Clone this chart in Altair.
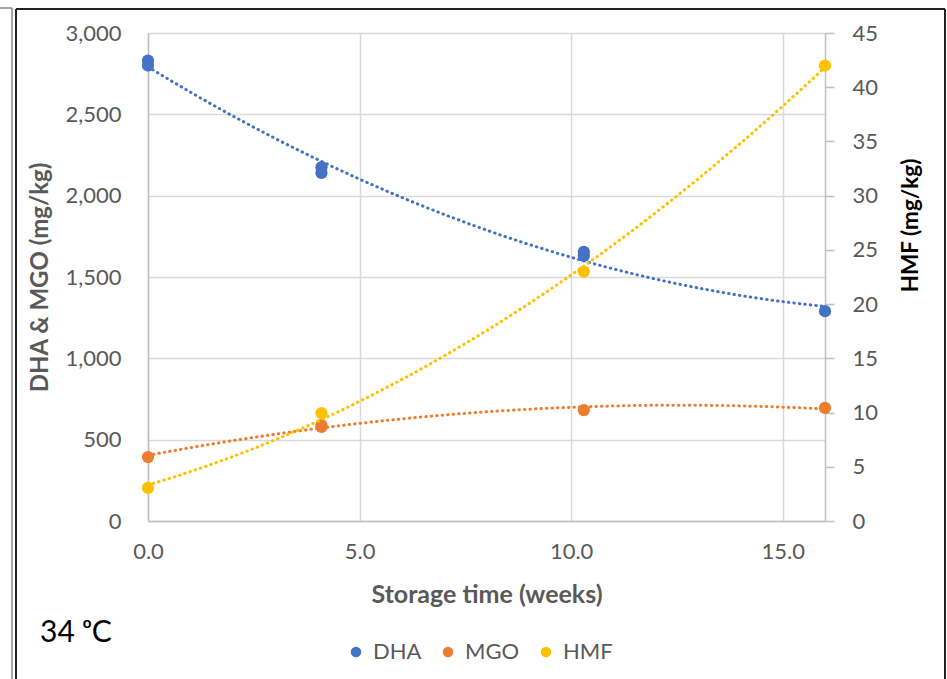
import altair as alt
import pandas as pd

# ---- data ----
series_names = ["DHA", "MGO", "HMF"]
series_colors = ["#4472C4", "#ED7D31", "#FFC000"]

dha_weeks = [0, 0, 4.1, 4.1, 10.3, 10.3, 16]
dha_vals = [2830, 2800, 2175, 2140, 1655, 1630, 1290]

mgo_weeks = [0, 4.1, 4.1, 10.3, 16]
mgo_vals = [393, 578, 590, 682, 695]

hmf_weeks = [0, 4.1, 10.3, 16]
hmf_vals = [3.05, 9.95, 23.0, 42.0]

x_ticks = [0, 5, 10, 15]
left_ticks = [0, 500, 1000, 1500, 2000, 2500, 3000]
right_ticks = [0, 5, 10, 15, 20, 25, 30, 35, 40, 45]

left_df = pd.DataFrame({
    "week": dha_weeks + mgo_weeks,
    "value": dha_vals + mgo_vals,
    "series": ["DHA"] * len(dha_weeks) + ["MGO"] * len(mgo_weeks),
})
right_df = pd.DataFrame({
    "week": hmf_weeks,
    "value": hmf_vals,
    "series": ["HMF"] * len(hmf_weeks),
})

FONT = "Lato"
GRAY = "#595959"
W, H = 677, 488

legend = alt.Legend(title=None, orient="none", direction="horizontal",
                    legendX=197, legendY=608, symbolType="circle",
                    symbolSize=110, symbolStrokeWidth=0, symbolOpacity=1,
                    labelFontSize=22, labelColor=GRAY, labelFont=FONT,
                    columnPadding=15, labelOffset=6)
color = alt.Color("series:N",
                  scale=alt.Scale(domain=series_names, range=series_colors),
                  legend=legend)

xenc = alt.X("week:Q", scale=alt.Scale(domain=[0, 16], nice=False),
             axis=alt.Axis(values=x_ticks, format=".1f", title="Storage time (weeks)",
                           labelFontSize=22, labelColor=GRAY, labelFont=FONT,
                           labelPadding=20, labelFlush=False, ticks=False,
                           domainColor="#BFBFBF", domainWidth=1.5,
                           gridColor="#D9D9D9", gridWidth=1.5,
                           titleFontSize=25, titleFont=FONT, titleColor=GRAY,
                           titleFontWeight="bold", titlePadding=20))

left_axis = alt.Axis(values=left_ticks, format=",.0f", title="DHA & MGO (mg/kg)",
                     labelFontSize=22, labelColor=GRAY, labelFont=FONT, labelPadding=27,
                     ticks=False, domainColor="#BFBFBF", domainWidth=1.5,
                     gridColor="#D9D9D9", gridWidth=1.5,
                     titleFontSize=24, titleFont=FONT, titleColor=GRAY,
                     titleFontWeight="bold", titlePadding=12)
right_axis = alt.Axis(values=right_ticks, title="HMF (mg/kg)", orient="right",
                      labelFontSize=22, labelColor=GRAY, labelFont=FONT, labelPadding=18,
                      ticks=True, tickSize=9, tickColor="#BFBFBF", tickWidth=1.5,
                      domainColor="#BFBFBF", domainWidth=1.5, grid=False,
                      titleFontSize=22.5, titleFont=FONT, titleColor="#000000",
                      titleFontWeight="bold", titlePadding=45, titleAngle=270,
                      titleY=192)

yleft = alt.Y("value:Q", scale=alt.Scale(domain=[0, 3000], nice=False), axis=left_axis)
yright = alt.Y("value:Q", scale=alt.Scale(domain=[0, 45], nice=False), axis=right_axis)

line_style = dict(strokeDash=[0.5, 5], strokeCap="round", strokeWidth=3)

left_pts = alt.Chart(left_df).mark_circle(size=150, opacity=1).encode(x=xenc, y=yleft, color=color)
left_fit = alt.Chart(left_df).transform_regression(
    "week", "value", method="poly", order=2, groupby=["series"], extent=[0, 16]
).mark_line(**line_style).encode(x=xenc, y=yleft, color=color)

right_pts = alt.Chart(right_df).mark_circle(size=150, opacity=1).encode(x=xenc, y=yright, color=color)
right_fit = alt.Chart(right_df).transform_regression(
    "week", "value", method="poly", order=2, groupby=["series"], extent=[0, 16]
).mark_line(**line_style).encode(x=xenc, y=yright, color=color)

left = alt.layer(left_fit, left_pts)
right = alt.layer(right_fit, right_pts)

one = pd.DataFrame({"k": [0]})
frame = alt.layer(
    alt.Chart(one).mark_rule(color="#222222", strokeWidth=2).encode(
        x=alt.value(-132), x2=alt.value(797), y=alt.value(-24)),
    alt.Chart(one).mark_rule(color="#222222", strokeWidth=2).encode(
        x=alt.value(-132), y=alt.value(-24), y2=alt.value(646)),
    alt.Chart(one).mark_rule(color="#222222", strokeWidth=2).encode(
        x=alt.value(797), y=alt.value(-24), y2=alt.value(646)),
    alt.Chart(one).mark_rule(color="#888888", strokeWidth=1.5).encode(
        x=alt.value(-136), y=alt.value(-25), y2=alt.value(646)),
    alt.Chart(one).mark_rule(color="#888888", strokeWidth=1.5).encode(
        x=alt.value(-148), x2=alt.value(-136), y=alt.value(-25)),
)

label = alt.Chart(one).mark_text(text="34 ᵒC", fontSize=30, font=FONT, color="#000000",
                                 align="left", baseline="middle").encode(
    x=alt.value(-108), y=alt.value(600))

chart = alt.layer(left, right, frame, label).resolve_scale(y="independent").properties(
    width=W, height=H,
    autosize=alt.AutoSizeParams(type="none"),
    padding={"left": 148, "top": 33, "right": 947 - 148 - W, "bottom": 679 - 33 - H},
    background="white",
).configure_view(strokeWidth=0)

chart.save("out.html", embed_options={"renderer": "svg", "actions": False})
